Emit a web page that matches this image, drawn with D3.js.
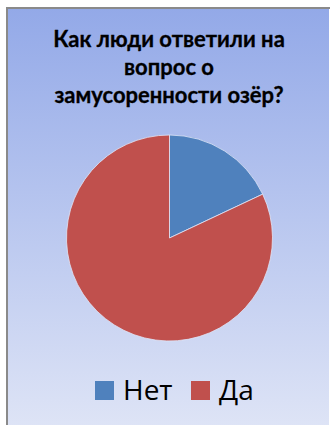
<!DOCTYPE html>
<html>
<head>
<meta charset="utf-8">
<script src="https://cdn.jsdelivr.net/npm/d3@7"></script>
<style>
  html, body { margin: 0; padding: 0; background: #fff; }
  svg { display: block; }
</style>
</head>
<body>
<div class="svg-wrapper"></div>
<script>
var categories = ["Нет", "Да"];
var values     = [18, 82];
var colors     = ["#4F81BD", "#C0504D"];
var titleLines = ["Как люди ответили на", "вопрос о", "замусоренности озёр?"];

var width = 330, height = 425;

var svg = d3.select(".svg-wrapper").append("svg")
  .attr("width", width)
  .attr("height", height);

var defs = svg.append("defs");
var grad = defs.append("linearGradient")
  .attr("id", "bg")
  .attr("x1", 0).attr("y1", 0).attr("x2", 0).attr("y2", 1);
grad.append("stop").attr("offset", "0%").attr("stop-color", "#93A9E8");
grad.append("stop").attr("offset", "100%").attr("stop-color", "#DEE4F6");

// chart area with frame on left/top
svg.append("rect")
  .attr("x", 7).attr("y", 8)
  .attr("width", 322).attr("height", 420)
  .attr("fill", "url(#bg)");
svg.append("line")
  .attr("x1", 7).attr("y1", 8).attr("x2", 7).attr("y2", 425)
  .attr("stroke", "#8a8a8a").attr("stroke-width", 2);
svg.append("line")
  .attr("x1", 6).attr("y1", 8).attr("x2", 330).attr("y2", 8)
  .attr("stroke", "#8a8a8a").attr("stroke-width", 2);

// title
svg.append("g")
  .selectAll("text")
  .data(titleLines)
  .enter().append("text")
  .attr("x", 169)
  .attr("y", function(d, i) { return 47 + i * 28; })
  .attr("text-anchor", "middle")
  .style("font-family", "Lato, sans-serif")
  .style("font-weight", "bold")
  .style("font-size", "22px")
  .attr("fill", "#000")
  .attr("stroke", "#000")
  .attr("stroke-width", 0.3)
  .text(function(d) { return d; });

// pie
var cx = 169.5, cy = 238, r = 103;
var pie = d3.pie().sort(null).value(function(d) { return d; });
var arc = d3.arc().innerRadius(0).outerRadius(r);

svg.append("g")
  .attr("transform", "translate(" + cx + "," + cy + ")")
  .selectAll("path")
  .data(pie(values))
  .enter().append("path")
  .attr("d", arc)
  .attr("fill", function(d, i) { return colors[i]; })
  .attr("stroke", "#dfe6f7")
  .attr("stroke-width", 0.8);

// legend
var legendX = [95, 191];
var legend = svg.append("g")
  .selectAll("g")
  .data(categories)
  .enter().append("g")
  .attr("transform", function(d, i) { return "translate(" + legendX[i] + ",381)"; });
legend.append("rect")
  .attr("width", 19).attr("height", 19)
  .attr("fill", function(d, i) { return colors[i]; });
legend.append("text")
  .attr("x", 28)
  .attr("y", 18.5)
  .style("font-family", "'Open Sans', sans-serif")
  .style("font-size", "28px")
  .attr("fill", "#000")
  .text(function(d) { return d; });
</script>
</body>
</html>
